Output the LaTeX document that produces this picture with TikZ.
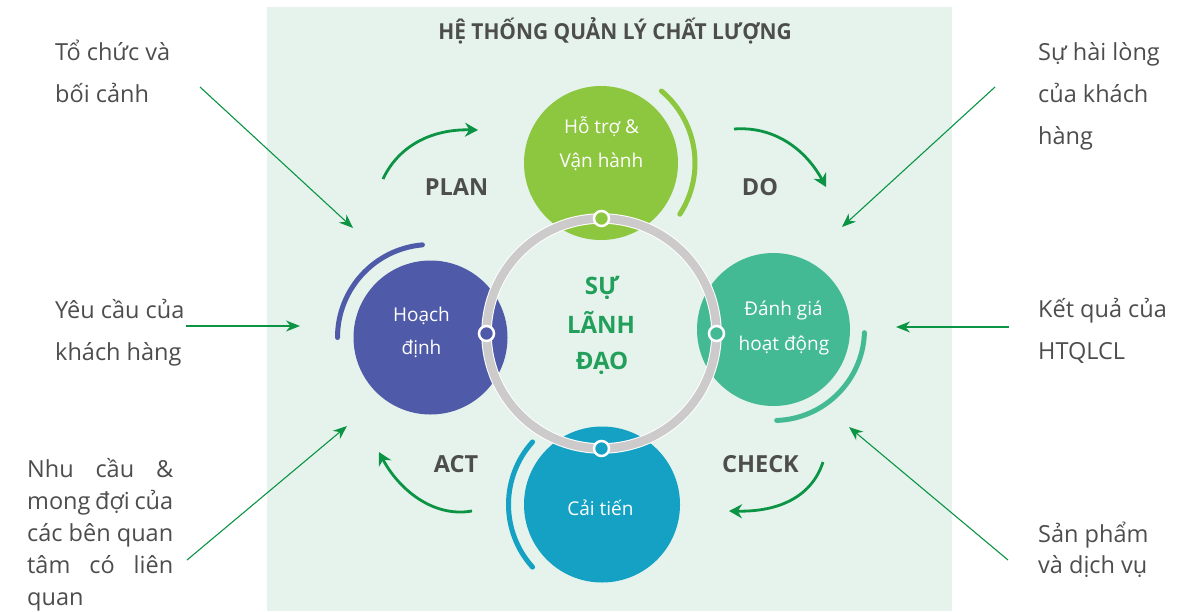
\documentclass[tikz,border=0pt]{standalone}
\usepackage{fontspec}
\setmainfont{Open Sans}
\newfontfamily\titlefont{Open Sans}[FakeStretch=0.95]
\usetikzlibrary{arrows.meta}
\definecolor{panelbg}{HTML}{E5F3EC}
\definecolor{txtgray}{HTML}{4D4D4D}
\definecolor{cgreen}{HTML}{8DC63F}
\definecolor{cpurple}{HTML}{4F5AA8}
\definecolor{cteal}{HTML}{44BA94}
\definecolor{cblue}{HTML}{14A1C3}
\definecolor{ringgray}{HTML}{CCCACA}
\definecolor{arrgreen}{HTML}{0B9444}
\definecolor{leadgreen}{HTML}{22A05B}
\begin{document}
\begin{tikzpicture}[x=1pt,y=1pt,
  lbl/.style={anchor=base west, inner sep=0, text=txtgray, font=\fontsize{23.5}{28}\selectfont},
  ctext/.style={anchor=base, inner sep=0, text=white, font=\fontsize{19}{23}\selectfont},
  phase/.style={anchor=base, inner sep=0, text=txtgray, font=\fontsize{23.5}{28}\selectfont\bfseries},
  lead/.style={anchor=base, inner sep=0, text=leadgreen, font=\fontsize{24}{28}\selectfont\bfseries},
  bigc/.style={circle, inner sep=0, outer sep=0},
  hug/.style={line width=5pt, line cap=round},
  cyc/.style={draw=arrgreen, line width=2.8pt, -{Stealth[length=13pt,width=14pt]}},
  feed/.style={draw=arrgreen, line width=1.1pt, -{Stealth[length=14pt,width=11pt]}},
  dotc/.style={circle, draw=white, line width=2.5pt, minimum size=15pt, inner sep=0}
]
\useasboundingbox (0,0) rectangle (1202,-611);
\fill[white] (0,0) rectangle (1202,-611);
\fill[panelbg] (267,-7) rectangle (952,-611);

% title
\node[anchor=base, inner sep=0, text=txtgray, font=\titlefont\fontsize{22}{26}\selectfont\bfseries] (title) at (615,-39) {HỆ THỐNG QUẢN LÝ CHẤT LƯỢNG};

% main circles
\node[bigc, fill=cgreen, minimum size=154pt] (support) at (601,-163) {};
\node[bigc, fill=cpurple, minimum size=154pt] (plan) at (430.5,-337.5) {};
\node[bigc, fill=cteal, minimum size=153pt] (eval) at (773.5,-329.5) {};
\node[bigc, fill=cblue, minimum size=156pt] (improve) at (602,-504.5) {};

% hugging arcs
\draw[hug, draw=cgreen] ([shift={(50:94)}]support.center) arc[start angle=50, end angle=-33, radius=94];
\draw[hug, draw=cpurple] ([shift={(95:93)}]plan.center) arc[start angle=95, end angle=180, radius=93];
\draw[hug, draw=cteal] ([shift={(-2:91)}]eval.center) arc[start angle=-2, end angle=-88, radius=91];
\draw[hug, draw=cblue] ([shift={(138:93.5)}]improve.center) arc[start angle=138, end angle=222, radius=93.5];

% leadership ring
\node[circle, minimum size=230pt, inner sep=0, outer sep=0, draw=white, line width=1pt, double=ringgray, double distance=8.5pt] (ring) at (601.5,-333.5) {};
\node[dotc, fill=cgreen] (dtop) at (ring.north) {};
\node[dotc, fill=cpurple] (dleft) at (ring.west) {};
\node[dotc, fill=cteal] (dright) at (ring.east) {};
\node[dotc, fill=cblue] (dbottom) at (ring.south) {};

% circle texts
\node[ctext] (s1) at (601.5,-133) {Hỗ trợ \&};
\node[ctext] (s2) at (601.5,-167) {Vận hành};
\node[ctext] (h1) at (421.5,-321) {Hoạch};
\node[ctext] (h2) at (421.5,-354) {định};
\node[ctext] (e1) at (783.5,-315) {Đánh giá};
\node[ctext] (e2) at (784,-350) {hoạt động};
\node[ctext] (i1) at (600.5,-515) {Cải tiến};

% centre text
\node[lead] (c1) at (602,-294) {SỰ};
\node[lead] (c2) at (601,-333) {LÃNH};
\node[lead] (c3) at (602,-369) {ĐẠO};

% phase labels
\node[phase] (tplan) at (456.5,-195) {PLAN};
\node[phase] (tdo) at (760,-195) {DO};
\node[phase] (tact) at (456,-472) {ACT};
\node[phase] (tcheck) at (760.5,-472) {CHECK};

% cycle arrows
\coordinate (pa) at (383,-179); \coordinate (pb) at (478,-130);
\coordinate (da) at (734,-129); \coordinate (db) at (826,-187);
\coordinate (ca) at (823,-462); \coordinate (cb) at (729,-511);
\coordinate (aa) at (472,-511); \coordinate (ab) at (379,-452);
\draw[cyc] (pa) .. controls (398,-147) and (430,-129) .. (pb);
\draw[cyc] (da) .. controls (775,-126) and (806,-150) .. (db);
\draw[cyc] (ca) .. controls (812,-496) and (780,-512) .. (cb);
\draw[cyc] (aa) .. controls (432,-518) and (398,-488) .. (ab);

% side labels
\node[lbl] (l1a) at (55,-60) {Tổ chức và};
\node[lbl] (l1b) at (55,-102) {bối cảnh};
\node[lbl] (l2a) at (55,-318) {Yêu cầu của};
\node[lbl] (l2b) at (55,-360) {khách hàng};
\node[lbl] (l3a) at (27,-477) {\makebox[146pt][s]{Nhu cầu \&}};
\node[lbl] (l3b) at (27,-509) {\makebox[146pt][s]{mong đợi của}};
\node[lbl] (l3c) at (27,-541) {\makebox[146pt][s]{các bên quan}};
\node[lbl] (l3d) at (27,-573) {\makebox[146pt][s]{tâm có liên}};
\node[lbl] (l3e) at (27,-605) {quan};
\node[lbl] (r1a) at (1038,-60) {Sự hài lòng};
\node[lbl] (r1b) at (1038,-102) {của khách};
\node[lbl] (r1c) at (1038,-144) {hàng};
\node[lbl] (r2a) at (1038,-317) {Kết quả của};
\node[lbl] (r2b) at (1038,-359) {HTQLCL};
\node[lbl] (r3a) at (1038,-542) {Sản phẩm};
\node[lbl] (r3b) at (1038,-573) {và dịch vụ};

% feed arrows
\coordinate (f1s) at (200,-87);  \coordinate (f1e) at (353,-228);
\coordinate (f2s) at (186,-326); \coordinate (f2e) at (300,-326);
\coordinate (f3s) at (187,-560); \coordinate (f3e) at (347,-426);
\coordinate (f4s) at (995,-87);  \coordinate (f4e) at (842,-227);
\coordinate (f5s) at (1009,-327); \coordinate (f5e) at (896,-327);
\coordinate (f6s) at (1008,-560); \coordinate (f6e) at (849,-427);
\draw[feed] (f1s) -- (f1e);
\draw[feed] (f2s) -- (f2e);
\draw[feed] (f3s) -- (f3e);
\draw[feed] (f4s) -- (f4e);
\draw[feed] (f5s) -- (f5e);
\draw[feed] (f6s) -- (f6e);
\end{tikzpicture}
\end{document}
